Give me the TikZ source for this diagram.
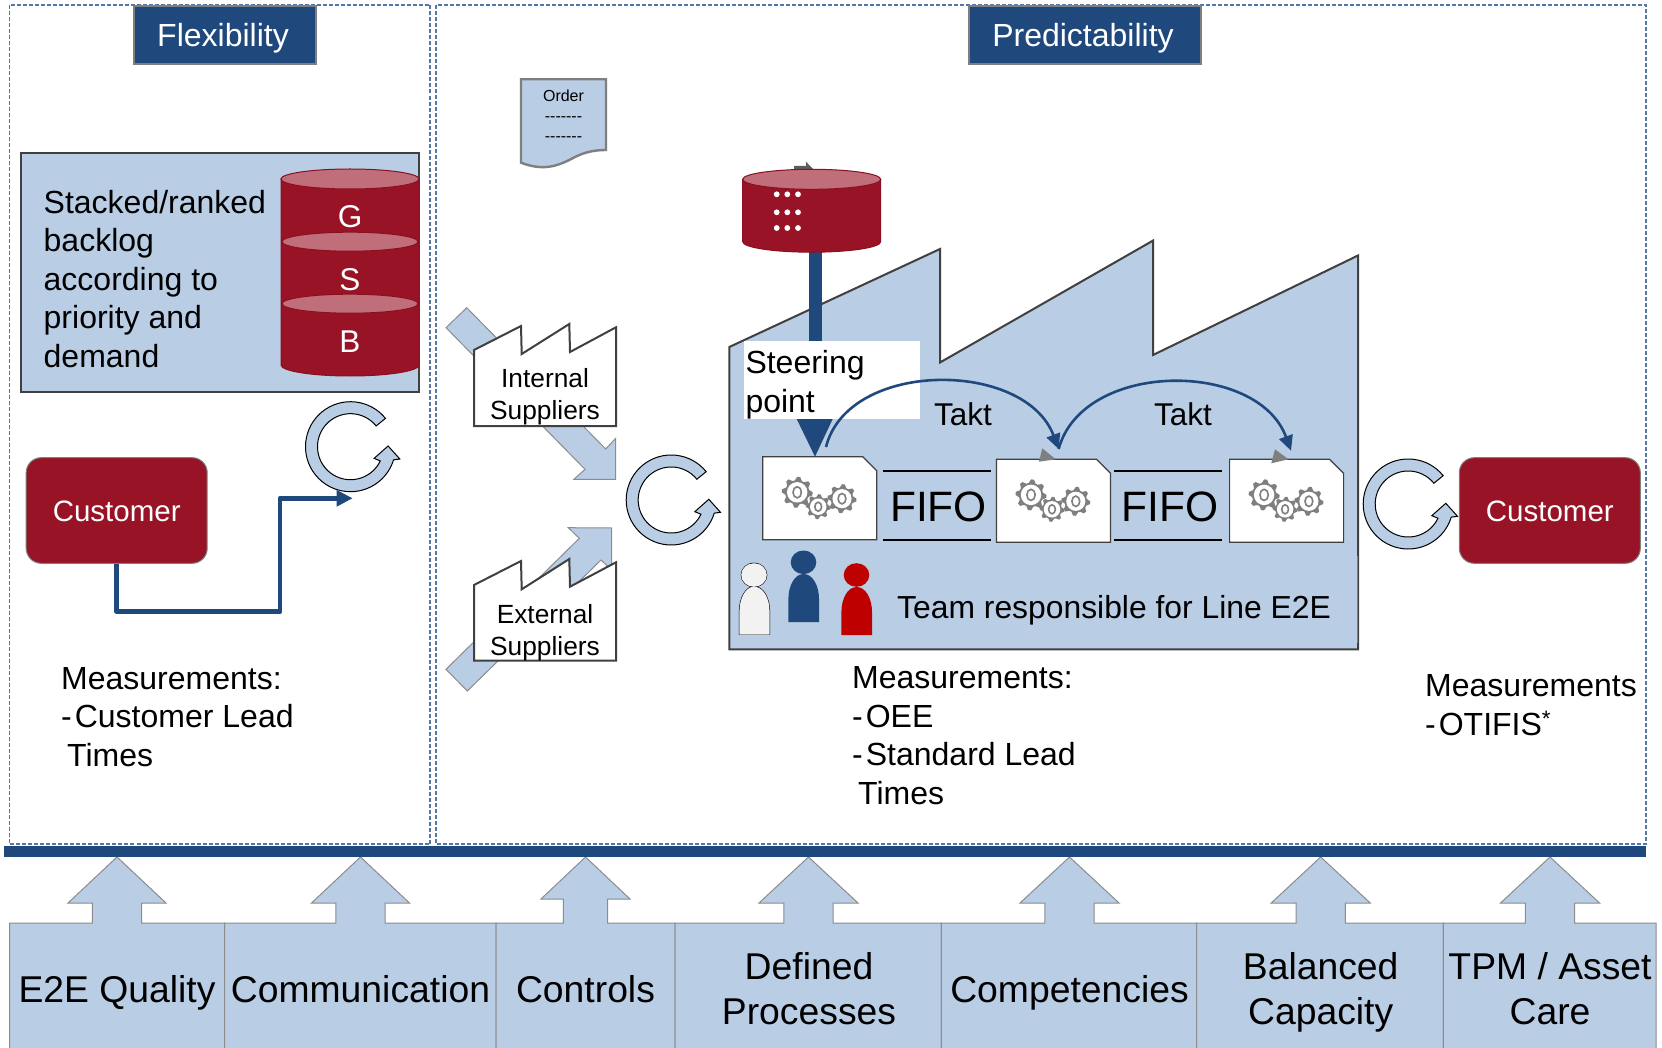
\documentclass[tikz,border=0pt]{standalone}
\usepackage{fontspec}
\setmainfont{Liberation Sans}
\usetikzlibrary{arrows.meta,calc}
\definecolor{lblue}{HTML}{B9CDE5}
\definecolor{dblue}{HTML}{1F497D}
\definecolor{crimson}{HTML}{981325}
\definecolor{crimtop}{HTML}{C06E79}
\definecolor{crimedge}{HTML}{8A0F20}
\definecolor{edgegray}{HTML}{7F7F7F}
\definecolor{darkedge}{HTML}{404040}
\definecolor{dashblue}{HTML}{5577A5}
\newcommand{\fs}[2]{\fontsize{#1}{#2}\selectfont}
\newcommand{\dropto}[2]{\raisebox{-#1pt}[0pt][0pt]{#2}}
\tikzset{
  x=1pt,y=-1pt,
  zone/.style={draw=dashblue,line width=1.2pt,dash pattern=on 4pt off 2pt},
  header/.style={draw=edgegray,line width=2pt,fill=dblue,text=white,font=\fs{32}{38},inner sep=0pt},
  body/.style={font=\fs{32}{38.4},text=black,inner sep=0pt,align=left},
  pillarlabel/.style={font=\fs{37.3}{45},text=black,inner sep=0pt,align=center},
  custbox/.style={draw=edgegray,line width=1pt,fill=crimson,text=white,rounded corners=15pt,font=\fs{29.5}{36},inner sep=0pt,minimum width=181pt,minimum height=105.6pt},
  cylbody/.style={fill=crimson,draw=crimedge,line width=1pt},
  cyltop/.style={fill=crimtop,draw=crimedge,line width=1pt},
  cyllabel/.style={text=white,font=\fs{31.5}{38},inner sep=0pt,anchor=base},
  factory/.style={fill=lblue,draw=darkedge,line width=2pt,line join=miter},
  smallfactory/.style={fill=white,draw=darkedge,line width=2pt,line join=miter},
  factlabel/.style={font=\fs{26.3}{32},text=black,inner sep=0pt,align=center,anchor=base},
  bigarrow/.style={fill=lblue,draw=edgegray!90,line width=1pt},
  loopshape/.style={fill=lblue,draw=black,line width=1pt},
  machinebox/.style={fill=white,draw=darkedge,line width=1.2pt},
  takt/.style={draw=dblue,line width=2.6pt,-{Triangle[length=15pt,width=14pt]}},
  pillar/.style={fill=lblue,draw=edgegray!90,line width=1pt},
}
\newcommand{\gearat}[3]{\begin{scope}[shift={(#1,#2)}]
  \fill[edgegray] plot[domain=0:360,samples=33] ({#3*cos(\x)*(mod(round(\x/11.25),4)<2?1:.78)},{#3*sin(\x)*(mod(round(\x/11.25),4)<2?1:.78)}) -- cycle;
  \fill[white] (0,0) circle[radius=#3*.66];
  \draw[edgegray,line width=1.6pt,fill=white] (0,0) ellipse[x radius=#3*.27,y radius=#3*.36];
\end{scope}}
\newcommand{\machine}[2]{%
  \draw[machinebox] (#1,#2) -- (#1+100,#2) -- (#1+114,#2+14) -- (#1+114,#2+83) -- (#1,#2+83) -- cycle;
  \gearat{#1+34.5}{#2+35.6}{15.5}
  \gearat{#1+55.5}{#2+50}{12.5}
  \gearat{#1+79.3}{#2+42}{14.5}}
\newcommand{\pillarbox}[6]{% x0 x1 cx headbase headhalf stemhalf
  \draw[pillar] (#1,1050) -- (#1,923) -- (#3-#6,923) -- (#3-#6,#4) -- (#3-#5,#4) -- (#3,857) -- (#3+#5,#4) -- (#3+#6,#4) -- (#3+#6,923) -- (#2,923) -- (#2,1050);}
\newcommand{\loopat}[2]{\begin{scope}[shift={(#1,#2)},y=1pt]
  \draw[loopshape] (39:45) arc[start angle=39,end angle=343,radius=45] -- (49.3,-12.3) -- (37.6,0.7) -- (23.6,-11.7) -- (334.5:33) arc[start angle=334.5,end angle=39,radius=33] -- cycle;
\end{scope}}
\newcommand{\person}[6]{% headx heady bodyL bodyR bodyTop color
  \fill[#6] (#1,#5) .. controls (#3+6,#5) and (#3,#5+12) .. (#3,#5+25) -- (#3,#5+48) -- (#4,#5+48) -- (#4,#5+25) .. controls (#4,#5+12) and (#4-6,#5) .. (#1,#5) -- cycle;
  \fill[#6] (#1,#2) ellipse[x radius=12.8,y radius=11.8];}
\begin{document}
\begin{tikzpicture}
\useasboundingbox (0,0) rectangle (1662,1048);
\fill[white] (0,0) rectangle (1662,1048);
% zones
\draw[zone] (9.5,5) rectangle (430,844);
\draw[zone] (436,5) rectangle (1646,844);
\node[header,minimum width=182pt,minimum height=58pt] (flex) at (225,35) {\hspace{-4pt}\dropto{11.7}{Flexibility}};
\node[header,minimum width=232pt,minimum height=58pt] (pred) at (1084.5,35) {\hspace{-3pt}\dropto{11.7}{Predictability}};
% backlog
\node[draw=darkedge,line width=2pt,fill=lblue,minimum width=398pt,minimum height=239pt,inner sep=0pt] (backlog) at (220,272.5) {};
\node[body,anchor=base west] (backlogtext) at (43.5,367) {Stacked/ranked\\backlog\\according to\\priority and\\demand};
\draw[cylbody] (281,179) -- (281,365) arc[start angle=180,end angle=360,x radius=69,y radius=-11] -- (419,179) -- cycle;
\draw[cyltop] (350,179) ellipse[x radius=69,y radius=10];
\draw[cyltop] (350,241.7) ellipse[x radius=68,y radius=9.5];
\draw[cyltop] (350,303.7) ellipse[x radius=68,y radius=9.5];
\node[cyllabel] (g) at (350,228) {G};
\node[cyllabel] (s) at (350,291) {S};
\node[cyllabel] (b) at (350,353) {B};
% left customer
\node[custbox] (cust1) at (116.7,510.5) {\dropto{11.2}{Customer}};
\loopat{350.5}{446.7}
\coordinate (loop1in) at (352.7,498.3);
\draw[dblue,line width=4.7pt,line join=round,-{Triangle[length=16pt,width=15.5pt]}] (cust1.south) -- (116.7,611.7) -- (280,611.7) -- (280,498.3) -- (loop1in);
\node[body,anchor=base west] (meas1) at (61,766) {Measurements:\\-\hspace{3pt}Customer Lead\\\hspace{6pt}Times};
% order doc
\draw[fill=lblue,draw=edgegray,line width=2.4pt] (521,79.3) -- (606,79.3) -- (606,150) .. controls (595,150) and (585,152) .. (575,157) .. controls (560,165) and (545,172) .. (521,162.7) -- cycle;
\node[font=\fs{16}{20},inner sep=0pt,align=center] (order) at (563.5,116) {Order\\-{}-{}-{}-{}-{}-{}-\\-{}-{}-{}-{}-{}-{}-};
% supplier arrows
\draw[bigarrow] (466.7,307.7) -- (446,327.7) -- (585,469.3) -- (574,479.3) -- (615.7,479.3) -- (615.7,438.3) -- (605.7,449) -- cycle;
\draw[bigarrow] (446,669.3) -- (579.3,538.3) -- (568.3,527.7) -- (611.7,528) -- (611.7,570) -- (601,560) -- (467.3,691) -- cycle;
\draw[smallfactory] (474,350) -- (521,326) -- (521.7,354) -- (569.3,324) -- (570,352) -- (616,327.3) -- (616,426) -- (474,426) -- cycle;
\node[factlabel] (internal) at (545,419) {Internal\\Suppliers};
\draw[smallfactory] (474,585) -- (521,561) -- (521.7,589.3) -- (569.3,559) -- (570,586.7) -- (616,562.3) -- (616,660.7) -- (474,660.7) -- cycle;
\node[factlabel] (external) at (545,655) {External\\Suppliers};
\loopat{671.2}{500}
% main factory
\draw[factory] (729.3,347) -- (940,249) -- (940,362.5) -- (1153,240.6) -- (1153,355) -- (1358,255.5) -- (1358,649.3) -- (729.3,649.3) -- cycle;
\fill[lblue] (1340,556) rectangle (1356.8,643);
\draw[edgegray,line width=.6pt] (1357.4,556) -- (1357.4,643);
% steering
\coordinate (m1top) at (815,456.7);
\fill[darkedge!85!white] (794,170) -- (794,166) -- (806,166) -- (806,161.7) -- (814,170) -- cycle;
\coordinate (stock) at (815.5,252);
\draw[dblue,line width=12.4pt] (stock) -- (815.5,425);
\fill[dblue] (796.7,419) -- (832.7,419) -- (m1top) -- cycle;
\node[fill=white,minimum width=176pt,minimum height=78pt,inner sep=0pt] (steerbg) at (832,380) {};
\node[body,anchor=base west] (steer) at (745.3,412) {Steering\\point};
\draw[cylbody] (742.7,179.3) -- (742.7,241.7) arc[start angle=180,end angle=360,x radius=69,y radius=-10.5] -- (880.7,179.3) -- cycle;
\draw[cyltop] (811.7,179.3) ellipse[x radius=69,y radius=10];
\foreach \xx in {776.7,787.3,798} \foreach \yy in {194.3,212.3,228} \fill[white] (\xx,\yy) circle[radius=2.9];
% machines
\machine{762.7}{456.7}
\machine{996.5}{459.3}
\machine{1229.6}{459.3}
\fill[edgegray] (1042.2,448.3) -- (1055.7,459.3) -- (1039,461.7) -- cycle;
\fill[edgegray] (1275,449.3) -- (1288.4,459.3) -- (1271.2,463.3) -- cycle;
\coordinate (t1) at (826,447);
\coordinate (t2) at (1058.6,449);
\coordinate (t3) at (1291,450.7);
\draw[takt] (t1) .. controls (848,359.5) and (1025,359.5) .. (t2);
\draw[takt] (t2) .. controls (1083,360) and (1258,360) .. (t3);
\node[font=\fs{31.5}{38},inner sep=0pt] (takt1) at (963,414) {Takt};
\node[font=\fs{31.5}{38},inner sep=0pt] (takt2) at (1183,414) {Takt};
% FIFO
\draw[black,line width=2pt] (883,471) -- (991,471) (883,540) -- (991,540);
\draw[black,line width=2pt] (1114,471) -- (1222,471) (1114,540) -- (1222,540);
\node[font=\fs{42.5}{48},inner sep=0pt] (fifo1) at (938.5,507) {FIFO};
\node[font=\fs{42.5}{48},inner sep=0pt] (fifo2) at (1170,507) {FIFO};
% people
\fill[black] (754,586) .. controls (745.4,586) and (738.9,598) .. (738.9,611) -- (738.9,634.8) -- (770.1,634.8) -- (770.1,611) .. controls (770.1,598) and (763.6,586) .. (754,586) -- cycle;
\fill[black] (754,575) ellipse[x radius=13.3,y radius=12.3];
\person{754}{575}{739.4}{769.6}{586.7}{white!95!black}
\person{803.5}{562.3}{788.4}{819}{574}{dblue}
\person{856.5}{575}{841.4}{872}{587}{red!75!black}
\node[body,anchor=base west,font=\fs{31.85}{38}] (team) at (897,618.7) {Team responsible for Line E2E};
\node[body,anchor=base west] (meas2) at (852,804) {Measurements:\\-\hspace{3pt}OEE\\-\hspace{3pt}Standard Lead\\\hspace{6pt}Times};
% right
\loopat{1408.2}{504}
\node[custbox] (cust2) at (1549.8,510.5) {\dropto{11.2}{Customer}};
\node[body,anchor=base west] (meas3) at (1425,735.3) {Measurements\\-\hspace{3pt}OTIFIS\textsuperscript{*}};
% bottom pillars
\pillarbox{9.6}{224.5}{117}{903}{49}{24.6}
\pillarbox{224.5}{496}{360.5}{903}{49}{24.6}
\pillarbox{496}{675}{585.5}{899}{44.5}{22.2}
\pillarbox{675}{941.4}{808.5}{903}{49.5}{24.7}
\pillarbox{941.4}{1196.6}{1069.5}{903}{49.5}{24.7}
\pillarbox{1196.6}{1443.3}{1320.7}{903}{49.5}{24.7}
\pillarbox{1443.3}{1656}{1550}{903}{49.5}{24.7}
\fill[dblue] (3.7,846) rectangle (1645.5,857);
\node[pillarlabel,anchor=base] (p1) at (117,1002) {E2E Quality};
\node[pillarlabel,anchor=base] (p2) at (360.5,1002) {Communication};
\node[pillarlabel,anchor=base] (p3) at (585.5,1002) {Controls};
\node[pillarlabel,anchor=base] (p4) at (809,1024) {Defined\\Processes};
\node[pillarlabel,anchor=base] (p5) at (1069.5,1002) {Competencies};
\node[pillarlabel,anchor=base] (p6) at (1320.7,1024) {Balanced\\Capacity};
\node[pillarlabel,anchor=base] (p7) at (1550,1024) {TPM / Asset\\Care};
\end{tikzpicture}
\end{document}
